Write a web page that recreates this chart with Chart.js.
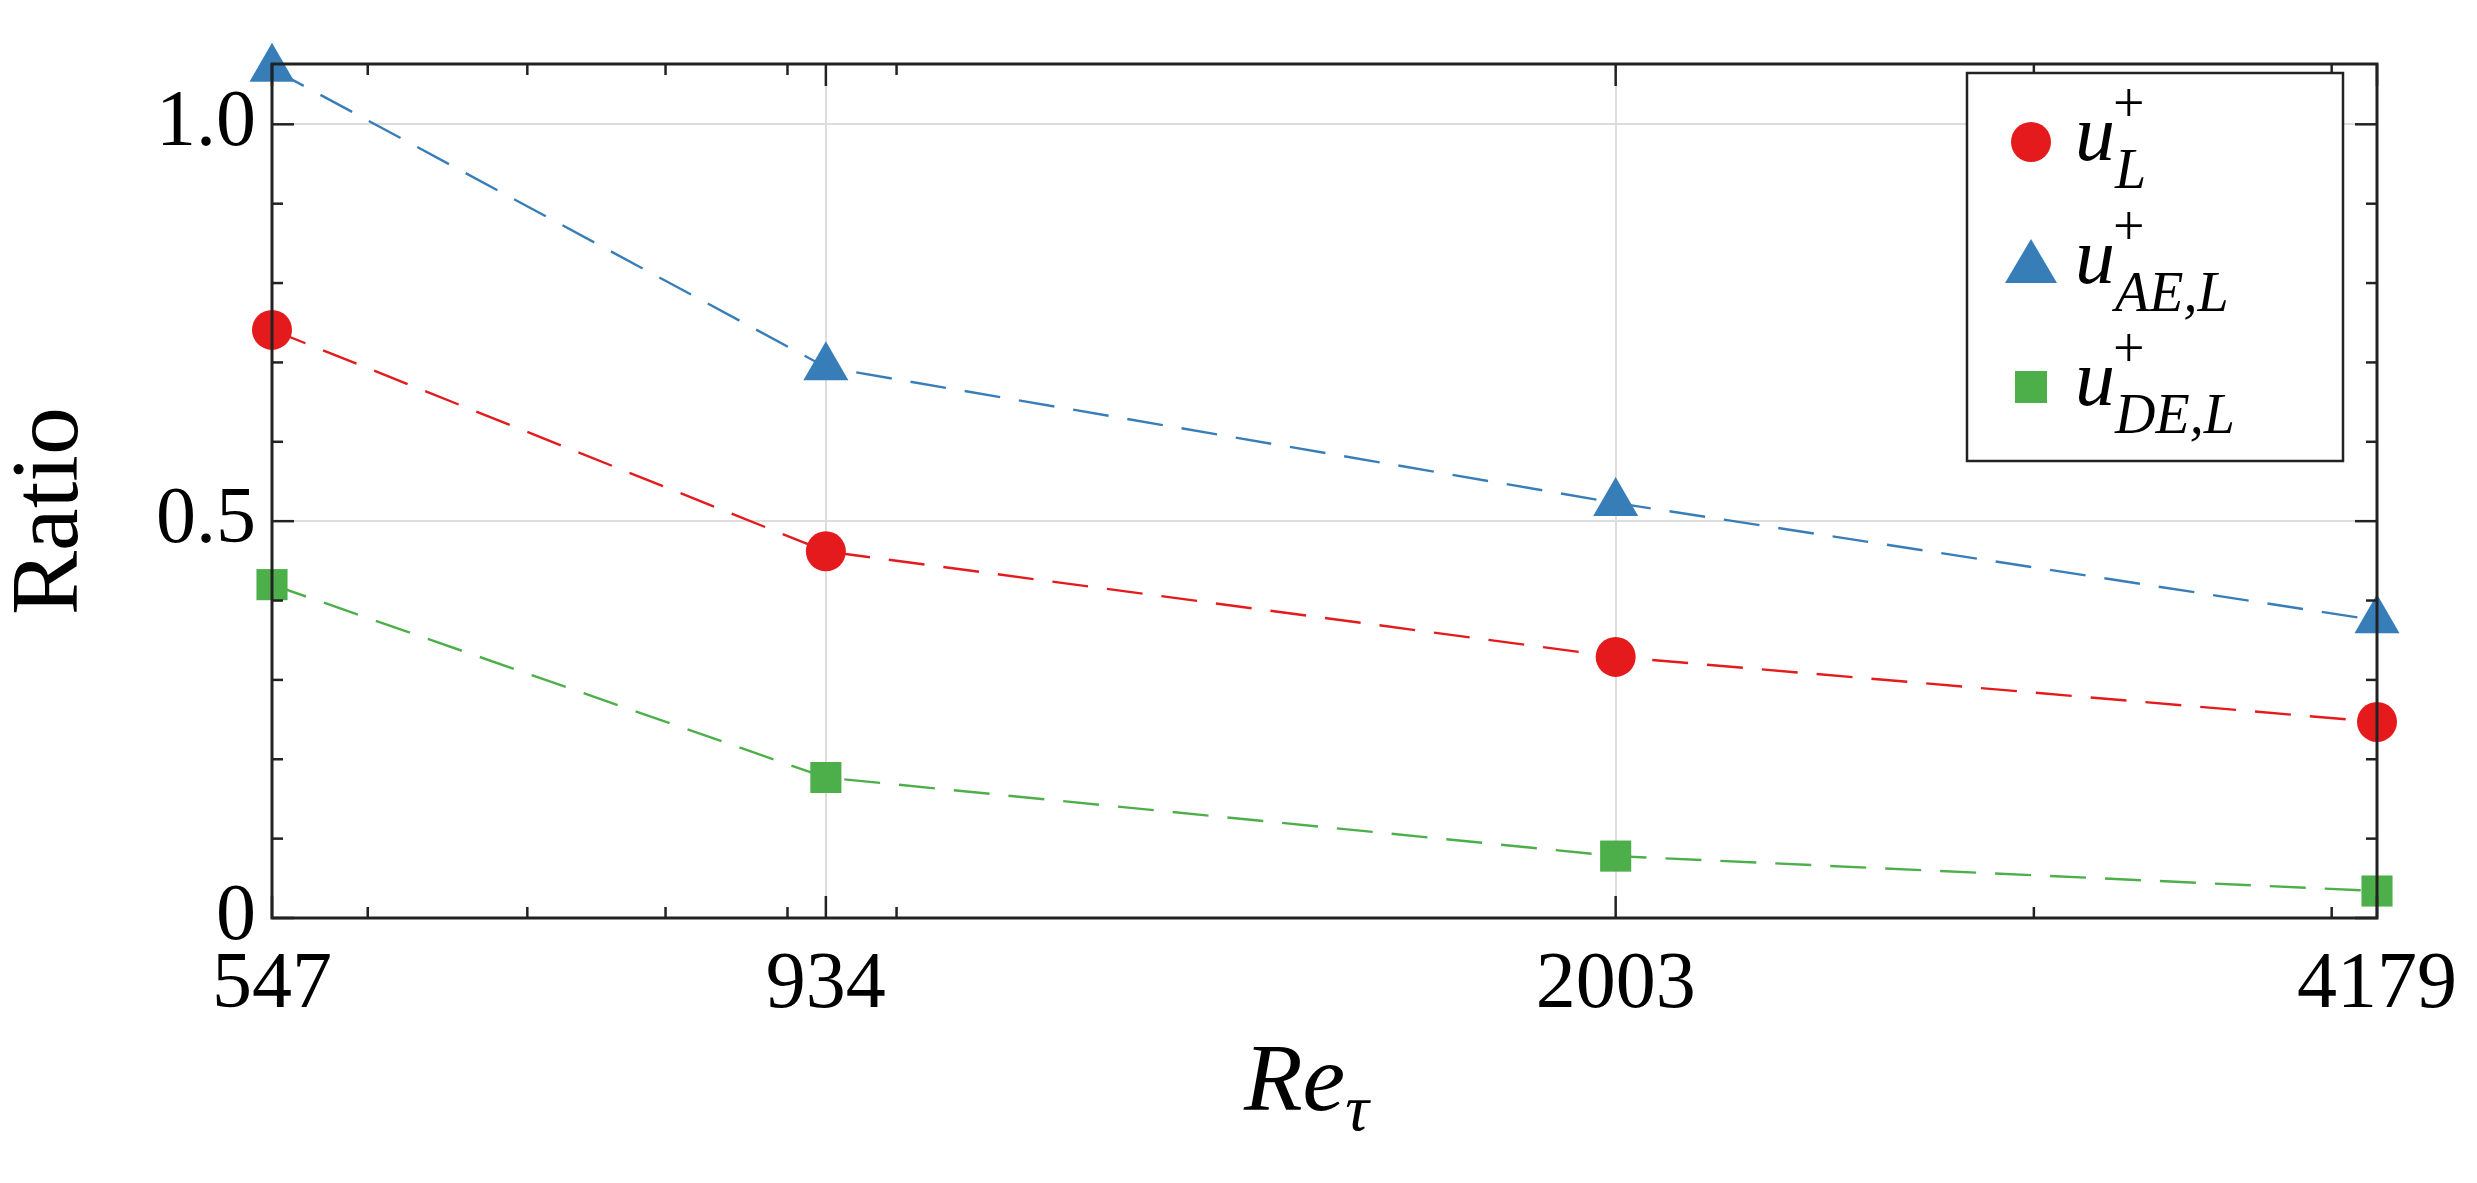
<!DOCTYPE html>
<html><head><meta charset="utf-8">
<script src="https://cdn.jsdelivr.net/npm/chart.js@4"></script>
<style>html,body{margin:0;padding:0;background:#fff}#w{width:2477px;height:1183px}</style>
</head><body><div id="w"><canvas id="c"></canvas></div>
<script>
const categories = [547, 934, 2003, 4179];
const uL = [0.741, 0.462, 0.329, 0.247];
const uAE = [1.07, 0.694, 0.523, 0.375];
const uDE = [0.420, 0.177, 0.078, 0.034];
const yTicks = [0, 0.5, 1.0];
const yTickLabels = ['0', '0.5', '1.0'];
const xMinor = [600, 700, 800, 900, 1000, 3000, 4000];
const yMinor = [0.1, 0.2, 0.3, 0.4, 0.6, 0.7, 0.8, 0.9];
const names = [['L'], ['AE,L'], ['DE,L']];
const colors = ['#e41a1c', '#377eb8', '#4daf4a'];
const serif = '"Liberation Serif", "DejaVu Serif", serif';

function pts(v){ return categories.map((x,i)=>({x, y:v[i]})); }
function ds(label, v, c, style, r){
  return {label, data: pts(v), borderColor:c, backgroundColor:c, borderWidth:2.4,
    borderDash:[36,19], pointStyle:style, pointRadius:r, pointHoverRadius:r, pointBorderWidth:0, fill:false, clip:false};
}

const deco = {
  id:'deco',
  afterDraw(ch){
    const ctx = ch.ctx, a = ch.chartArea, xs = ch.scales.x, ys = ch.scales.y;
    ctx.save();
    ctx.strokeStyle = '#222'; ctx.lineWidth = 3;
    ctx.strokeRect(a.left, a.top, a.right-a.left, a.bottom-a.top);
    ctx.lineWidth = 2.5;
    const tk = (x1,y1,x2,y2)=>{ctx.beginPath();ctx.moveTo(x1,y1);ctx.lineTo(x2,y2);ctx.stroke();};
    categories.forEach(v=>{const x=xs.getPixelForValue(v); tk(x,a.bottom,x,a.bottom-22); tk(x,a.top,x,a.top+22);});
    xMinor.forEach(v=>{const x=xs.getPixelForValue(v); tk(x,a.bottom,x,a.bottom-11); tk(x,a.top,x,a.top+11);});
    yTicks.forEach(v=>{const y=ys.getPixelForValue(v); tk(a.left,y,a.left+22,y); tk(a.right,y,a.right-22,y);});
    yMinor.forEach(v=>{const y=ys.getPixelForValue(v); tk(a.left,y,a.left+11,y); tk(a.right,y,a.right-11,y);});
    ctx.fillStyle = '#000';
    ctx.save(); ctx.translate(52, (a.top+a.bottom)/2+20); ctx.rotate(-Math.PI/2);
    ctx.font = '96px '+serif; ctx.textAlign='center'; ctx.textBaseline='middle';
    ctx.fillText('Ratio', 0, 0); ctx.restore();
    ctx.font = 'italic 96px '+serif; ctx.textAlign='left'; ctx.textBaseline='alphabetic';
    const tw = ctx.measureText('Re').width;
    const cx = (a.left+a.right)/2 - 10;
    ctx.fillText('Re', cx-tw/2-20, 1110);
    ctx.font = 'italic 66px '+serif; ctx.fillText('τ', cx+tw/2-20, 1130);
    const lx=1967, ly=73, lw=376, lh=388;
    ctx.fillStyle='#fff'; ctx.fillRect(lx,ly,lw,lh);
    ctx.strokeStyle='#222'; ctx.lineWidth=2.5; ctx.strokeRect(lx,ly,lw,lh);
    const rows=[142,265,387];
    rows.forEach((y,i)=>{
      ctx.fillStyle=colors[i];
      const mx=2031;
      if(i===0){ctx.beginPath();ctx.arc(mx,y,20,0,Math.PI*2);ctx.fill();}
      else if(i===1){ctx.beginPath();ctx.moveTo(mx,y-26);ctx.lineTo(mx+26,y+18);ctx.lineTo(mx-26,y+18);ctx.closePath();ctx.fill();}
      else {ctx.fillRect(mx-16,y-16,32,32);}
      ctx.fillStyle='#000';
      ctx.font='italic 80px '+serif;
      ctx.fillText('u', 2075, y+18);
      const uw = ctx.measureText('u').width;
      ctx.font='56px '+serif; ctx.fillText('+', 2075+uw-2, y-20);
      ctx.font='italic 56px '+serif; ctx.fillText(names[i][0], 2075+uw, y+46);
    });
    ctx.restore();
  }
};

new Chart(document.getElementById('c'), {
  type:'line',
  data:{datasets:[
    ds('uL', uL, colors[0], 'circle', 20),
    ds('uAE', uAE, colors[1], 'triangle', 26),
    ds('uDE', uDE, colors[2], 'rect', 22)
  ]},
  plugins:[deco],
  options:{
    responsive:true, maintainAspectRatio:false, animation:false,
    devicePixelRatio:1,
    layout:{padding:{top:0, right:82, left:0, bottom:0}},
    plugins:{legend:{display:false}, tooltip:{enabled:false}},
    scales:{
      x:{type:'logarithmic', min:547, max:4179,
        afterBuildTicks(s){ s.ticks = categories.map(v=>({value:v})); },
        afterFit(s){ s.height = 265; },
        ticks:{autoSkip:false, maxRotation:0, padding:20, color:'#000', font:{family:serif, size:80},
          callback:(v)=>String(v)},
        grid:{color:(c)=> (c.tick && (c.tick.value===934||c.tick.value===2003)) ? '#dddddd' : 'rgba(0,0,0,0)', lineWidth:2, tickLength:0},
        border:{display:false}},
      y:{min:0, max:1.076,
        afterBuildTicks(s){ s.ticks = yTicks.map(v=>({value:v})); },
        afterFit(s){ s.width = 272; },
        ticks:{padding:16, color:'#000', font:{family:serif, size:80},
          callback:(v)=>{const i=yTicks.indexOf(v); return i>=0?yTickLabels[i]:'';}},
        grid:{color:(c)=> (c.tick && c.tick.value>0) ? '#dddddd' : 'rgba(0,0,0,0)', lineWidth:2, tickLength:0},
        border:{display:false}}
    }
  }
});
</script></body></html>
